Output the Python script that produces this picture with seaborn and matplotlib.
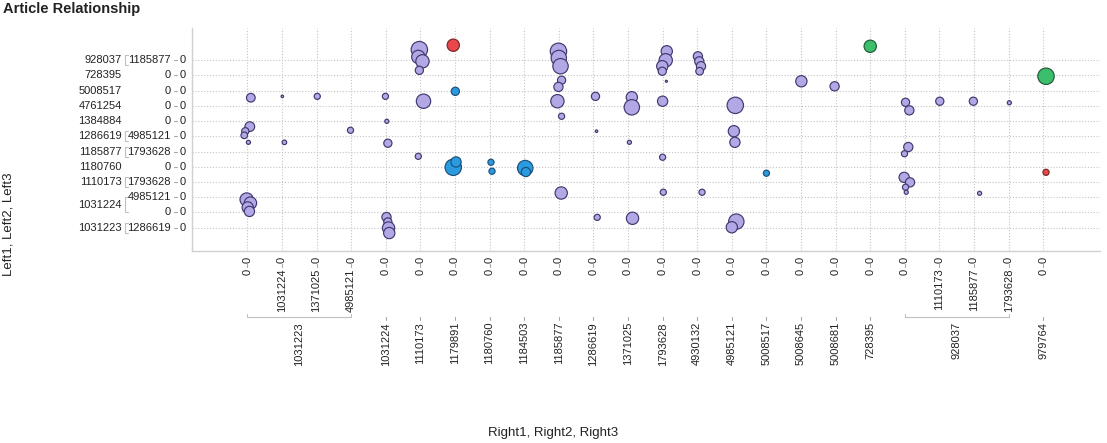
import numpy as np
import pandas as pd
import matplotlib
matplotlib.use("Agg")
import matplotlib.pyplot as plt
import matplotlib.transforms as mtrans
from matplotlib.lines import Line2D
import seaborn as sns

# ---------------- data ----------------
title = "Article Relationship"
x_title = "Right1, Right2, Right3"
y_title = "Left1, Left2, Left3"

# x categories (Right1 / Right2 / Right3)
col_l1 = ["1031223", "1031223", "1031223", "1031223", "1031224", "1110173", "1179891",
          "1180760", "1184503", "1185877", "1286619", "1371025", "1793628", "4930132",
          "4985121", "5008517", "5008645", "5008681", "728395", "928037", "928037",
          "928037", "928037", "979764"]
col_l2 = ["0", "1031224", "1371025", "4985121", "0", "0", "0", "0", "0", "0", "0", "0",
          "0", "0", "0", "0", "0", "0", "0", "0", "1110173", "1185877", "1793628", "0"]
col_l3 = ["0"] * 24

# y categories (Left1 / Left2 / Left3), bottom to top
row_l1 = ["1031223", "1031224", "1031224", "1110173", "1180760", "1185877", "1286619",
          "1384884", "4761254", "5008517", "728395", "928037"]
row_l2 = ["1286619", "0", "4985121", "1793628", "0", "1793628", "4985121", "0", "0", "0",
          "0", "1185877"]
row_l3 = ["0"] * 12

# bubbles: position on the category scales, weight, kind
bub_x = [0.10, 0.07, -0.06, -0.09, 0.03, -0.02, 0.09, 0.01, 0.06,
         1.01, 1.07, 2.02, 2.98,
         3.99, 4.03, 4.06, 4.02, 4.06, 4.08, 4.10,
         4.97, 4.94, 5.06, 4.97, 5.09, 4.94,
         5.95, 6.01, 5.95, 6.03,
         7.04, 7.07, 8.03, 8.05,
         8.99, 9.00, 9.05, 9.08, 8.99, 8.96, 9.08, 9.07,
         10.06, 10.09, 10.11,
         11.11, 11.11, 11.04, 11.13,
         12.12, 12.09, 11.99, 11.99, 12.11, 12.00, 12.00, 12.02,
         13.02, 13.06, 13.11, 13.07, 13.14,
         14.10, 14.06, 14.09, 14.13, 14.00,
         15.00, 16.01, 16.97, 18.00,
         19.02, 19.13, 19.10, 18.99, 18.98, 19.15, 19.02, 19.04,
         20.01, 20.98, 21.16, 22.02, 23.08, 23.08]
bub_y = [8.54, 6.64, 6.34, 6.07, 5.61, 1.85, 1.62, 1.33, 1.07,
         8.63, 5.61, 8.63, 6.40,
         8.63, 6.99, 5.55, 0.70, 0.38, -0.02, -0.35,
         11.70, 11.22, 10.93, 10.34, 8.31, 4.69,
         11.99, 8.96, 3.97, 4.32,
         4.30, 3.71, 3.92, 3.66,
         11.59, 11.15, 10.61, 9.69, 9.25, 8.31, 7.32, 2.28,
         8.63, 6.34, 0.68,
         8.57, 7.91, 5.61, 0.62,
         11.59, 11.00, 10.61, 10.28, 9.62, 8.31, 4.63, 2.33,
         11.26, 10.93, 10.61, 10.28, 2.33,
         8.04, 6.34, 5.61, 0.40, 0.03,
         3.58, 9.62, 9.29, 11.92,
         8.24, 7.71, 5.30, 4.86, 3.31, 2.98, 2.66, 2.33,
         8.31, 8.31, 2.26, 8.21, 9.95, 3.64]
bub_w = [72, 90, 49, 42, 16, 169, 144, 121, 100,
         6, 20, 36, 36,
         36, 16, 64, 81, 64, 144, 121,
         256, 169, 169, 64, 196, 36,
         144, 64, 256, 100,
         36, 36, 225, 81,
         256, 225, 225, 64, 81, 169, 36, 144,
         64, 6, 36,
         121, 225, 16, 144,
         121, 169, 121, 64, 4, 100, 36, 36,
         81, 81, 81, 56, 36,
         256, 121, 100, 225, 121,
         36, 121, 81, 144,
         64, 81, 81, 36, 100, 81, 36, 16,
         64, 64, 16, 16, 256, 36]
bub_kind = (["A"] * 26 + ["R", "B", "B", "B", "B", "B", "B", "B"] + ["A"] * 33 +
            ["B", "A", "A", "G"] + ["A"] * 12 + ["G", "R"])

# ---------------- style ----------------
sns.set_style("white")
plt.rcParams["font.family"] = ["Liberation Sans", "DejaVu Sans"]

fill_map = {"A": "#b3a7e6", "B": "#2b9be0", "R": "#e8484b", "G": "#3cbf6c"}
edge_map = {"A": "#3f3a6e", "B": "#1d4f7c", "R": "#7a2626", "G": "#1f5a33"}

W, H = 1107, 443
fig = plt.figure(figsize=(W / 100, H / 100), dpi=100)
L, R, T, B = 192, 1100, 28, 251
ax = fig.add_axes([L / W, 1 - B / H, (R - L) / W, (B - T) / H])
AXW, AXH = R - L, B - T

df = pd.DataFrame({"x": bub_x, "y": bub_y, "w": bub_w, "kind": bub_kind})
sns.scatterplot(data=df, x="x", y="y", hue="kind", palette=fill_map, size="w",
                sizes=(0, 0.5184 * 256 * 1.05), size_norm=(0, 256),
                edgecolor=[edge_map[k] for k in df["kind"]], linewidth=0.85,
                alpha=1, legend=False, ax=ax, zorder=3)

ax.set_xlim(-1.60, 24.64)
ax.set_ylim(-1.53, 13.12)
ax.set_xticks(range(len(col_l1)))
ax.set_yticks(range(len(row_l1)))
ax.tick_params(length=0, labelbottom=False, labelleft=False)
ax.set_xlabel("")
ax.set_ylabel("")
ax.set_axisbelow(True)
ax.grid(True, linestyle=(0, (1, 1.6)), color="#c4c4c4", linewidth=0.8)
for s in ["top", "right"]:
    ax.spines[s].set_visible(False)
for s in ["left", "bottom"]:
    ax.spines[s].set_color("#d0d0d0")
    ax.spines[s].set_linewidth(1.0)

lab_kw = dict(fontsize=8, color="#222222")
tick_c = "#a8a8a8"
brk_c = "#c0c0c0"
xt = mtrans.blended_transform_factory(ax.transData, ax.transAxes)
yt = mtrans.blended_transform_factory(ax.transAxes, ax.transData)


def sh(t, dx, dy):
    return t + mtrans.Affine2D().translate(dx, dy)


def xline(xs, pys, color):
    ax.add_line(Line2D(xs, [-p / AXH for p in pys], transform=xt, color=color,
                       linewidth=0.8, clip_on=False))


def yline(pxs, ys, color):
    ax.add_line(Line2D([p / AXW for p in pxs], ys, transform=yt, color=color,
                       linewidth=0.8, clip_on=False))


# ---- x axis hierarchical labels ----
for i in range(len(col_l1)):
    ax.text(i, 0, col_l3[i], transform=sh(xt, 0, -6), rotation=90,
            ha="center", va="top", **lab_kw)
    xline([i, i], [13, 16], tick_c)
    ax.text(i, 0, col_l2[i], transform=sh(xt, 0, -17.5), rotation=90,
            ha="center", va="top", **lab_kw)

groups = []
for i, g in enumerate(col_l1):
    if groups and groups[-1][0] == g:
        groups[-1][2] = i
    else:
        groups.append([g, i, i])
for g, a, b in groups:
    if b > a:
        xline([a, a, b, b], [63, 66, 66, 63], brk_c)
    else:
        xline([a, a], [66, 69], tick_c)
    ax.text((a + b) / 2, 0, g, transform=sh(xt, 0, -71), rotation=90,
            ha="center", va="top", **lab_kw)

# ---- y axis hierarchical labels ----
for j in range(len(row_l1)):
    ax.text(0, j, row_l3[j], transform=sh(yt, -6.5, 0), ha="right",
            va="center", **lab_kw)
    yline([-18, -15], [j, j], tick_c)
    ax.text(0, j, row_l2[j], transform=sh(yt, -21, 0), ha="right",
            va="center", **lab_kw)

rgroups = []
for j, g in enumerate(row_l1):
    if rgroups and rgroups[-1][0] == g:
        rgroups[-1][2] = j
    else:
        rgroups.append([g, j, j])
for g, a, b in rgroups:
    if b > a or row_l2[a] != "0":
        lo, hi = (a - 0.33, b + 0.33) if a == b else (a, b)
        yline([-64, -67.5, -67.5, -64], [lo, lo, hi, hi], brk_c)
    ax.text(0, (a + b) / 2, g, transform=sh(yt, -70, 0), ha="right",
            va="center", **lab_kw)

# ---- titles ----
fig.text(3 / W, 1 - 2 / H, title, fontsize=10.5, fontweight="bold",
         color="#222222", ha="left", va="top")
fig.text(553 / W, 1 - 433 / H, x_title, fontsize=9.5, color="#222222",
         ha="center", va="center")
fig.text(8.5 / W, 1 - 224 / H, y_title, fontsize=9.5, color="#222222",
         ha="center", va="center", rotation=90)

fig.savefig("out.png", dpi=100)
